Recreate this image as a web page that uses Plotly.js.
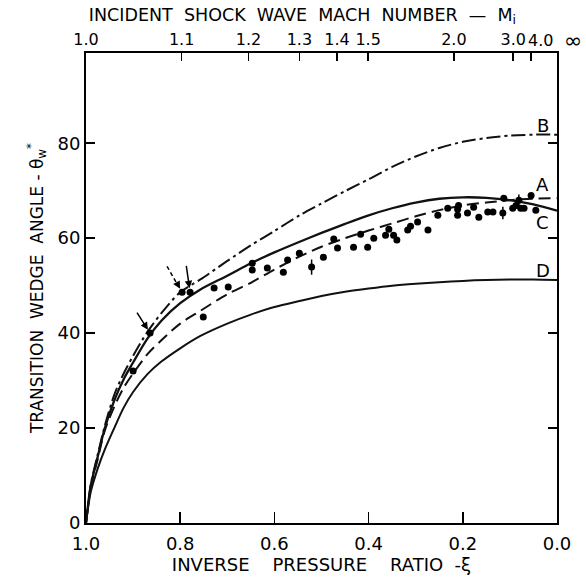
<!DOCTYPE html>
<html>
<head>
<meta charset="utf-8">
<script src="https://cdn.plot.ly/plotly-3.0.1.min.js"></script>
<style>html,body{margin:0;padding:0;background:#fff;}#chart{width:586px;height:577px;}</style>
</head>
<body>
<div id="chart"></div>
<script>
// Inverse pressure ratio (xi) sample positions for the theory curves
const xiCurve = [1, 0.99, 0.975, 0.96, 0.94, 0.92, 0.9, 0.87, 0.84, 0.8, 0.757, 0.7, 0.65, 0.6, 0.545, 0.5, 0.45, 0.4, 0.35, 0.3, 0.25, 0.2, 0.15, 0.1, 0.05, 0.0];
// Curve B (dash-dot)
const curveB = [0, 8, 14.5, 20.5, 27, 31.5, 35.2, 40.2, 44.2, 48.6, 51.3, 55.2, 58.5, 61.5, 64.9, 67.3, 69.9, 72.4, 75, 77.2, 79, 80.3, 81.1, 81.6, 81.8, 81.8];
// Curve A (solid, upper)
const curveA = [0, 7.8, 14, 20, 25.8, 30.3, 33.8, 38.8, 42.6, 46.3, 49.2, 52.1, 54.7, 57, 59.3, 61.1, 63, 64.8, 66.3, 67.5, 68.3, 68.6, 68.5, 68, 67.1, 65.8];
// Curve C (dashed)
const curveC = [0, 7.5, 13.5, 19.5, 24.5, 28.5, 31.5, 35.5, 38.5, 42, 44.7, 48.2, 50.6, 53.4, 56.2, 58.2, 60, 61.6, 63.1, 64.6, 65.9, 66.9, 67.5, 68, 68.3, 68.4];
// Curve D (solid, lower)
const curveD = [0, 6.5, 11.5, 15.5, 20, 24.3, 27.6, 31.3, 34, 36.8, 39.4, 42, 43.9, 45.5, 46.8, 47.8, 48.7, 49.4, 50, 50.4, 50.7, 51, 51.2, 51.3, 51.3, 51.2];

// Experimental points
const expXi = [0.9, 0.864, 0.796, 0.779, 0.751, 0.728, 0.698, 0.647, 0.647, 0.615, 0.581, 0.572, 0.547, 0.521,
  0.496, 0.474, 0.466, 0.432, 0.417, 0.402, 0.389, 0.364, 0.357, 0.347, 0.34, 0.317, 0.311, 0.296, 0.274,
  0.253, 0.232, 0.211, 0.211, 0.209, 0.19, 0.177, 0.166, 0.147, 0.136, 0.115, 0.113, 0.094, 0.087, 0.081,
  0.077, 0.07, 0.055, 0.045];
const expTheta = [32, 40, 48.6, 48.6, 43.4, 49.5, 49.7, 54.7, 53.3, 53.7, 52.8, 55.4, 56.8, 53.9,
  56, 59.8, 57.9, 58.1, 60.8, 58.1, 60, 60.6, 61.9, 60.6, 59.6, 61.7, 62.5, 63.4, 61.7,
  64.8, 66.3, 66.1, 64.8, 66.9, 65.3, 66.5, 64.4, 65.5, 65.5, 65.3, 68.4, 66.3, 66.9, 68,
  66.3, 66.3, 69, 65.9];
const expErr = expXi.map((v, i) => (i === 13 ? 1.6 : (i === 39 ? 1.3 : (i === 43 ? 1.2 : 0))));

// Top axis: incident shock Mach number
const machPos = [1.0, 0.797, 0.655, 0.547, 0.467, 0.401, 0.219, 0.093, 0.055];
const machLabels = ["1.0", "1.1", "1.2", "1.3", "1.4", "1.5", "2.0", "3.0", ""];
const machExtraLabel = "4.0";

const xTickVals = [1.0, 0.8, 0.6, 0.4, 0.2, 0.0];
const xTickText = ["1.0", "0.8", "0.6", "0.4", "0.2", "0.0"];
const yTickVals = [0, 20, 40, 60, 80];

const FONT = "DejaVu Sans, Liberation Sans, sans-serif";
const lw = 2;

const traces = [
  {x: xiCurve, y: curveB, mode: 'lines', line: {color: '#111', width: lw, dash: '14px,4px,3px,4px', shape: 'spline', smoothing: 0.8}, hoverinfo: 'skip'},
  {x: xiCurve, y: curveA, mode: 'lines', line: {color: '#111', width: 2.3, shape: 'spline', smoothing: 0.8}, hoverinfo: 'skip'},
  {x: xiCurve, y: curveC, mode: 'lines', line: {color: '#111', width: lw, dash: '12px,6px', shape: 'spline', smoothing: 0.8}, hoverinfo: 'skip'},
  {x: xiCurve, y: curveD, mode: 'lines', line: {color: '#111', width: lw, shape: 'spline', smoothing: 0.8}, hoverinfo: 'skip'},
  {x: expXi, y: expTheta, mode: 'markers', marker: {color: '#000', size: 7},
   error_y: {type: 'data', array: expErr, visible: true, color: '#000', thickness: 1.5, width: 0}},
  {x: [machPos[0]], y: [0], xaxis: 'x2', mode: 'markers', marker: {opacity: 0}, hoverinfo: 'skip'}
];

const annotations = [
  {x: expXi[1], y: expTheta[1], ax: -14, ay: -22},
  {x: expXi[2], y: expTheta[2], ax: -5, ay: -9},
  {x: expXi[3], y: expTheta[3], ax: -4, ay: -28}
].map(a => Object.assign({
  xref: 'x', yref: 'y', text: '', showarrow: true,
  arrowhead: 2, arrowsize: 1, arrowwidth: 1.5, arrowcolor: '#000', standoff: 4
}, a));

// dashed shaft of the second arrow
const shapes = [{
  type: 'line', xref: 'x', yref: 'y', xsizemode: 'pixel', ysizemode: 'pixel',
  xanchor: expXi[2], yanchor: expTheta[2], x0: -15, y0: 26, x1: -6, y1: 10,
  line: {color: '#000', width: 1.5, dash: '4px,3px'}
}];

const curveLabels = [
  {t: 'B', y: 83.8}, {t: 'A', y: 71.2}, {t: 'C', y: 63.2}, {t: 'D', y: 53.1}
];
curveLabels.forEach(c => annotations.push({
  x: 0.03, y: c.y, xref: 'x', yref: 'y', text: c.t, showarrow: false,
  font: {family: FONT, size: 18, color: '#000'}, xanchor: 'center', yanchor: 'middle'
}));
annotations.push({
  x: 1.0, y: 1.0, xref: 'paper', yref: 'paper', xshift: 16, yshift: 13, text: '∞', showarrow: false,
  font: {family: FONT, size: 22, color: '#000'}, xanchor: 'center', yanchor: 'middle'
});
annotations.push({
  x: 1.0, y: 1.0, xref: 'paper', yref: 'paper', xshift: -17, yshift: 13, text: machExtraLabel, showarrow: false,
  font: {family: FONT, size: 16, color: '#000'}, xanchor: 'center', yanchor: 'middle'
});

const layout = {
  width: 586, height: 577,
  margin: {l: 86, r: 29, t: 53, b: 54},
  paper_bgcolor: '#fff', plot_bgcolor: '#fff',
  showlegend: false,
  font: {family: FONT, size: 17, color: '#000'},
  title: {text: 'INCIDENT&nbsp; SHOCK&nbsp; WAVE&nbsp; MACH&nbsp; NUMBER&nbsp; —&nbsp; M<sub>i</sub>',
    font: {family: FONT, size: 17.5, color: '#000'}, x: 0.516, xanchor: 'center', y: 0.975, yanchor: 'middle'},
  xaxis: {
    range: [1, 0], tickvals: xTickVals, ticktext: xTickText, ticks: 'inside', ticklen: 11, tickwidth: 1.5,
    tickcolor: '#000', showline: true, linewidth: 2, linecolor: '#000', mirror: false, showgrid: false, zeroline: false,
    tickfont: {family: FONT, size: 18, color: '#000'}, ticklabelstandoff: 3, tickangle: 0,
    title: {text: 'INVERSE&nbsp;&nbsp;&nbsp; PRESSURE&nbsp;&nbsp;&nbsp; RATIO&nbsp; -ξ', standoff: 3, font: {family: FONT, size: 18, color: '#000'}}
  },
  xaxis2: {
    range: [1, 0], overlaying: 'x', side: 'top', anchor: 'y', tickvals: machPos, ticktext: machLabels, tickangle: 0,
    ticks: 'inside', ticklen: 8, tickwidth: 1.5, tickcolor: '#000', showline: true, linewidth: 2, linecolor: '#000',
    showgrid: false, zeroline: false, tickfont: {family: FONT, size: 16, color: '#000'}
  },
  yaxis: {
    range: [0, 99], tickvals: yTickVals, ticks: 'inside', ticklen: 9, tickwidth: 1.5, tickcolor: '#000',
    showline: true, linewidth: 2, linecolor: '#000', mirror: 'ticks', showgrid: false, zeroline: false,
    tickfont: {family: FONT, size: 18, color: '#000'},
    title: {text: 'TRANSITION&nbsp; WEDGE&nbsp; ANGLE - θ<sub>w</sub><sup>*</sup>', standoff: 10, font: {family: FONT, size: 17, color: '#000'}}
  },
  shapes: shapes,
  annotations: annotations
};

Plotly.newPlot('chart', traces, layout, {displayModeBar: false, staticPlot: true});
</script>
</body>
</html>
